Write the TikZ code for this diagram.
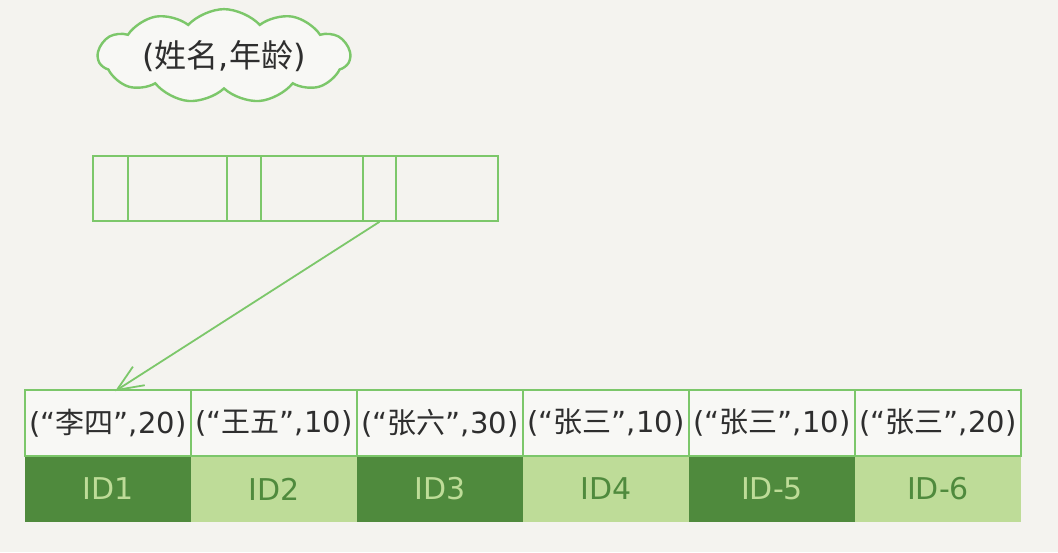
\documentclass[tikz,border=0pt]{standalone}
\usepackage{fontspec}
\setmainfont{DejaVu Sans}
\newfontfamily\cjk{Noto Sans CJK SC}
\usetikzlibrary{shapes.symbols,arrows.meta}
\definecolor{bg}{HTML}{F4F3EF}
\definecolor{cellbg}{HTML}{F8F8F5}
\definecolor{lgreen}{HTML}{7CC76A}
\definecolor{dgreen}{HTML}{4F8A3D}
\definecolor{pgreen}{HTML}{BEDC98}
\definecolor{ink}{HTML}{2E2E2E}
\newcommand{\kv}[2]{(“{\cjk #1}”,#2)}
\tikzset{
  keycell/.style={draw=lgreen, line width=1.6pt, fill=cellbg, minimum width=166pt, minimum height=66pt, inner sep=0pt, font=\fontsize{29}{32}\selectfont, text=ink},
  idcell/.style={minimum width=166pt, minimum height=66pt, inner sep=0pt, font=\fontsize{30}{34}\selectfont},
  darkid/.style={idcell, fill=dgreen, text=pgreen},
  lightid/.style={idcell, fill=pgreen, text=dgreen},
  topcell/.style={draw=lgreen, line width=1.6pt, minimum height=65pt, inner sep=0pt},
}
\begin{document}
\begin{tikzpicture}[x=1pt,y=-1pt]
\fill[bg] (0,0) rectangle (1058,552);
\useasboundingbox (0,0) rectangle (1058,552);
% cloud
\node[cloud, cloud puffs=11, cloud puff arc=95, aspect=3.4, draw=lgreen, line width=2.4pt, fill=cellbg, minimum width=252pt, minimum height=84pt, inner sep=0pt, text=ink, font=\fontsize{32}{36}\selectfont] (cloud) at (224,56) {({\cjk 姓名},{\cjk 年龄})};
% top index page
\node[topcell, minimum width=35pt] (t1) at (110.5,188.5) {};
\node[topcell, minimum width=99pt] (t2) at (177.5,188.5) {};
\node[topcell, minimum width=34pt] (t3) at (244,188.5) {};
\node[topcell, minimum width=102pt] (t4) at (312,188.5) {};
\node[topcell, minimum width=33pt] (t5) at (379.5,188.5) {};
\node[topcell, minimum width=102pt] (t6) at (447,188.5) {};
% leaf page: ID row first, then key row over it
\foreach \i/\s/\t in {1/darkid/ID1,2/lightid/ID2,3/darkid/ID3,4/lightid/ID4,5/darkid/ID-5,6/lightid/ID-6}{
  \node[\s] (d\i) at ({25+166*(\i-0.5)},489) {\t};
}
\foreach \i/\a/\b in {1/李四/20,2/王五/10,3/张六/30,4/张三/10,5/张三/10,6/张三/20}{
  \node[keycell] (k\i) at ({25+166*(\i-0.5)},423) {\kv{\a}{\b}};
}
% pointer
\draw[lgreen, line width=1.8pt, -{Straight Barb[length=26pt,width=22pt]}] (t5.south) -- ([xshift=7pt,yshift=-2pt]k1.north);
\end{tikzpicture}
\end{document}
